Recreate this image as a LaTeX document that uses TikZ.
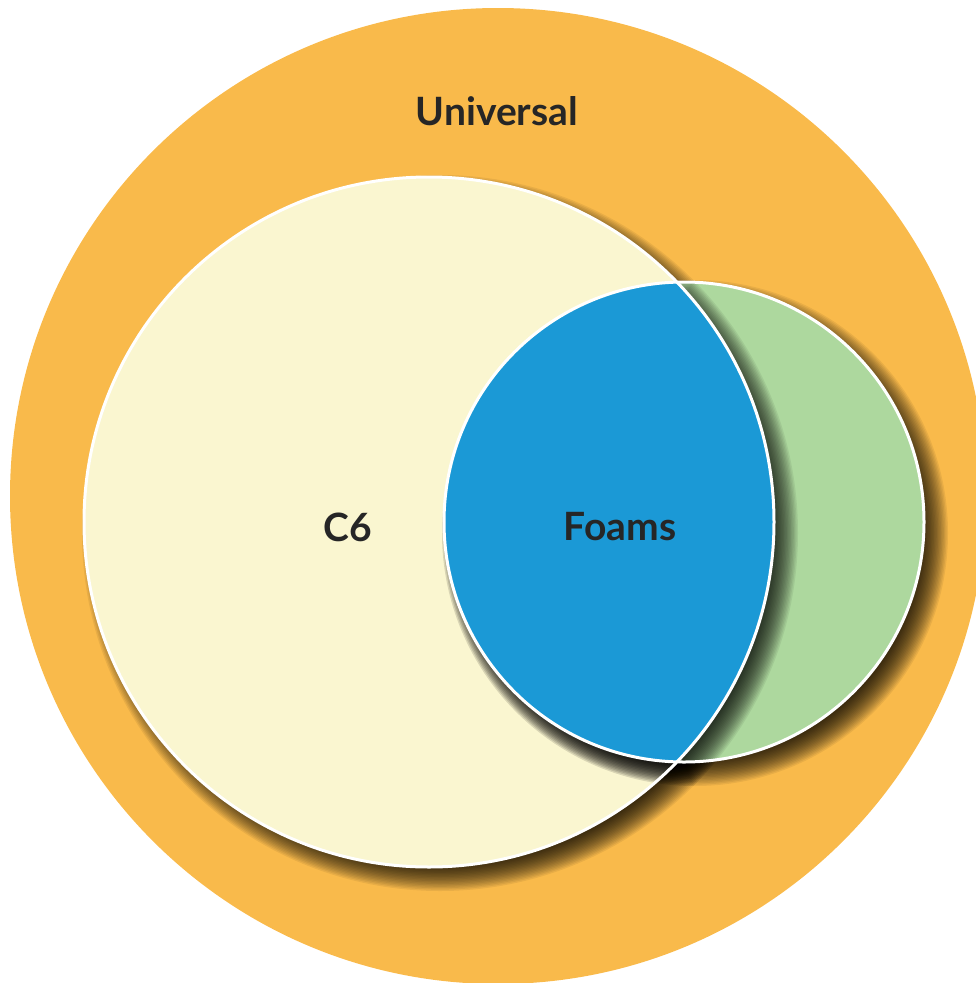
\documentclass[tikz,border=0pt]{standalone}
\usepackage{fontspec}
\setmainfont{Lato}
\definecolor{uniorange}{HTML}{F9BA4B}
\definecolor{cyellow}{HTML}{FAF6D0}
\definecolor{fgreen}{HTML}{ADD89E}
\definecolor{lensblue}{HTML}{1B99D6}
\definecolor{txt}{HTML}{262626}
\tikzset{
  setlabel/.style={text=txt, font=\fontsize{39}{46}\selectfont\bfseries, inner sep=0pt},
  ring/.style={draw=white, line width=3pt},
  shadowlayer/.style={fill=black, opacity=0.065}
}
\newcommand\blurcircle[3]{%
  \foreach \k in {0,...,19}{%
    \fill[shadowlayer] ({#1+11},{#2+11}) circle ({#3+13-\k*1.4});
  }%
}
\begin{document}
\begin{tikzpicture}[x=1pt,y=-1pt]
\useasboundingbox (0,0) rectangle (976,983);
\clip (0,0) rectangle (976,983);
% universal set
\fill[uniorange] (498,496) circle (488);
\node[setlabel] (universal) at (497,111) {Universal};
% C6 set
\blurcircle{429}{522}{345}
\fill[cyellow] (429,522) circle (345);
% Foams set
\blurcircle{684}{522}{240}
\fill[fgreen] (684,522) circle (240);
% lens shadow
\foreach \k in {0,...,19}{%
  \begin{scope}
    \clip ({429+11},{522+11}) circle ({345+13-\k*1.4});
    \fill[shadowlayer] ({684+11},{522+11}) circle ({240+13-\k*1.4});
  \end{scope}
}
% lens
\begin{scope}
  \clip (429,522) circle (345);
  \fill[lensblue] (684,522) circle (240);
\end{scope}
% outlines
\draw[ring] (429,522) circle (345);
\draw[ring] (684,522) circle (240);
\node[setlabel] (c6) at (348,527) {C6};
\node[setlabel] (foams) at (620,527) {Foams};
\end{tikzpicture}
\end{document}
